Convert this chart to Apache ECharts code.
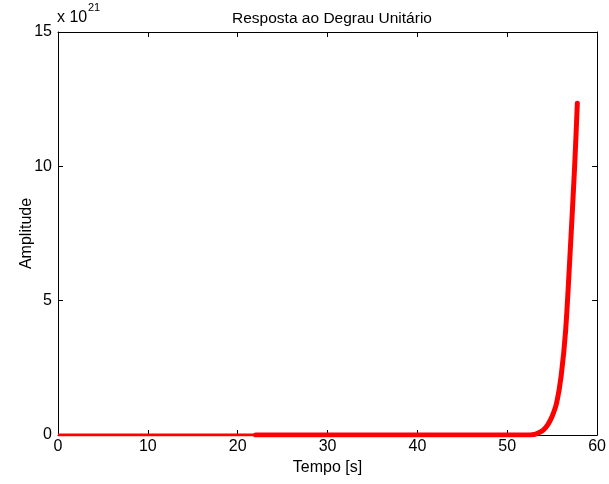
<!DOCTYPE html>
<html>
<head>
<meta charset="utf-8">
<script src="https://cdn.jsdelivr.net/npm/echarts@6/dist/echarts.min.js"></script>
<style>html,body{margin:0;padding:0;background:#fff;}#c{width:609px;height:484px;}</style>
</head>
<body>
<div id="c"></div>
<script>
// Tempo [s] and amplitude (units of 1e21)
const timeEarly = [0, 22];
const ampEarly = [0, 0];
const timeLate = [22, 40, 52.0, 53.0, 53.5, 54.0, 54.5, 55.0, 55.5, 56.0, 56.5, 57.0, 57.5, 57.8];
const ampLate  = [0, 0, 0, 0.02, 0.08, 0.18, 0.38, 0.70, 1.20, 2.20, 3.90, 6.80, 10.00, 12.35];
const xTicks = [0, 10, 20, 30, 40, 50, 60];
const yTicks = [0, 5, 10, 15];

const FONT = 'Liberation Sans';
const chart = echarts.init(document.getElementById('c'));
const axisCommon = {
  axisLine: {show: true, onZero: false, lineStyle: {color: '#000', width: 1}},
  axisTick: {show: true, inside: true, length: 5, lineStyle: {color: '#000'}},
  splitLine: {show: false}
};
chart.setOption({
  animation: false,
  backgroundColor: '#fff',
  title: {
    text: 'Resposta ao Degrau Unitário', left: 327, textAlign: 'center', top: 6,
    textStyle: {fontFamily: FONT, fontSize: 15.5, fontWeight: 'normal', color: '#000'}
  },
  grid: {left: 58, right: 9, top: 32, bottom: 49},
  xAxis: [
    Object.assign({type: 'value', min: xTicks[0], max: xTicks[xTicks.length-1], interval: 10, position: 'bottom',
      name: 'Tempo [s]', nameLocation: 'middle', nameGap: 23,
      nameTextStyle: {fontFamily: FONT, fontSize: 16, color: '#000', verticalAlign: 'top'},
      axisLabel: {fontFamily: FONT, fontSize: 16, color: '#000', margin: 4}}, axisCommon),
    Object.assign({type: 'value', min: 0, max: 60, interval: 10, position: 'top', axisLabel: {show: false}}, axisCommon)
  ],
  yAxis: [
    Object.assign({type: 'value', min: yTicks[0], max: yTicks[yTicks.length-1], interval: 5, position: 'left',
      name: 'Amplitude', nameLocation: 'middle', nameGap: 23, nameRotate: 90, nameMoveOverlap: false,
      nameTextStyle: {fontFamily: FONT, fontSize: 16, color: '#000'},
      axisLabel: {fontFamily: FONT, fontSize: 16, color: '#000', margin: 6}}, axisCommon),
    Object.assign({type: 'value', min: 0, max: 15, interval: 5, position: 'right', axisLabel: {show: false}}, axisCommon)
  ],
  graphic: [
    {type: 'text', left: 57, top: 10, style: {text: 'x 10', font: '16px "Liberation Sans"', fill: '#000'}},
    {type: 'text', left: 88, top: 2, style: {text: '21', font: '11px "Liberation Sans"', fill: '#000'}}
  ],
  series: [
    {type: 'line', data: timeEarly.map((t, i) => [t, ampEarly[i]]), showSymbol: false,
      lineStyle: {color: '#ff0000', width: 3}, z: 3},
    {type: 'line', data: timeLate.map((t, i) => [t, ampLate[i]]), showSymbol: false, smooth: 0.3,
      lineStyle: {color: '#ff0000', width: 5, cap: 'round', join: 'round'}, z: 3}
  ]
});
</script>
</body>
</html>
